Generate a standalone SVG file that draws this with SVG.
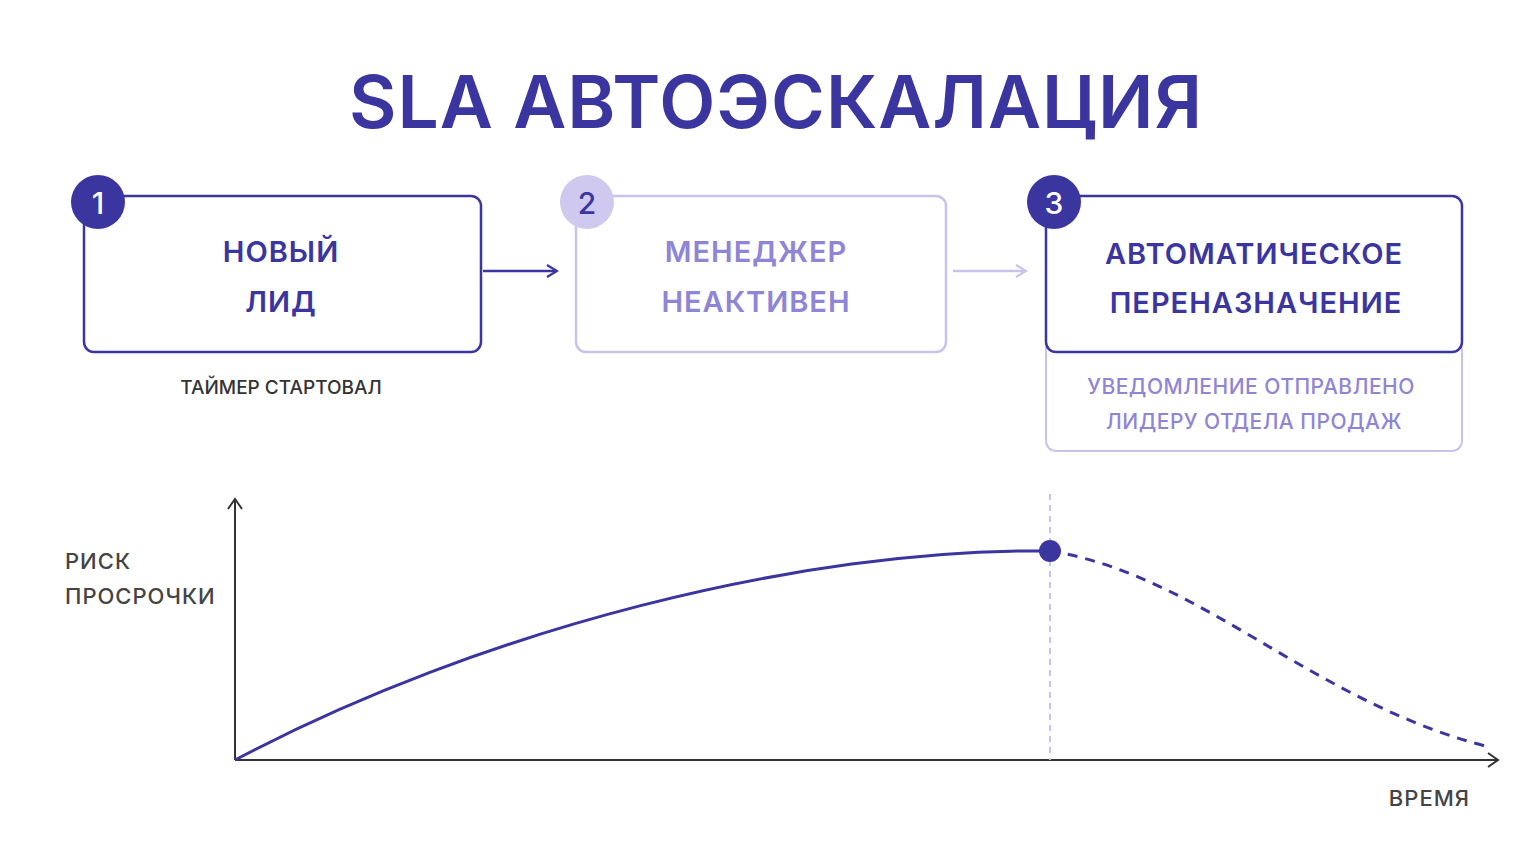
<svg xmlns="http://www.w3.org/2000/svg" width="1536" height="864" viewBox="0 0 1536 864">
<style>
text{font-family:Inter,"Noto Sans",sans-serif;text-anchor:middle}
.dk{fill:#3b35a0}.lt{fill:#8f85d6}
.bx{fill:#fff;stroke-width:2.5}
.lbl{font-size:29px;font-weight:600;letter-spacing:1px}
</style>
<defs>
<marker id="ad" markerWidth="14" markerHeight="14" refX="12" refY="7" orient="auto" markerUnits="userSpaceOnUse"><path d="M2,1 L12,7 L2,13" fill="none" stroke="#3b35a0" stroke-width="2.2"/></marker>
<marker id="al" markerWidth="14" markerHeight="14" refX="12" refY="7" orient="auto" markerUnits="userSpaceOnUse"><path d="M2,1 L12,7 L2,13" fill="none" stroke="#c9c3ec" stroke-width="2.2"/></marker>
<marker id="ag" markerWidth="16" markerHeight="16" refX="13" refY="8" orient="auto" markerUnits="userSpaceOnUse"><path d="M3,1 L13,8 L3,15" fill="none" stroke="#333" stroke-width="2"/></marker>
</defs>
<rect width="1536" height="864" fill="#fff"/>
<text x="776" y="128" font-size="73" font-weight="600" class="dk" letter-spacing="1">SLA АВТОЭСКАЛАЦИЯ</text>
<g id="connectors">
<line x1="483" y1="271" x2="557" y2="271" stroke="#3b35a0" stroke-width="2.5" marker-end="url(#ad)"/>
<line x1="953" y1="271" x2="1026" y2="271" stroke="#c9c3ec" stroke-width="2.5" marker-end="url(#al)"/>
</g>
<g id="node1">
<rect x="84" y="196" width="397" height="156" rx="10" class="bx" stroke="#3b35a0"/>
<circle cx="98" cy="202" r="27" fill="#3b35a0"/>
<text x="98" y="214" font-size="30" font-weight="500" fill="#fff">1</text>
<text x="281" y="262" class="lbl dk">НОВЫЙ</text>
<text x="281" y="312" class="lbl dk">ЛИД</text>
<text x="281" y="394" font-size="19" font-weight="500" fill="#333">ТАЙМЕР СТАРТОВАЛ</text>
</g>
<g id="node2">
<rect x="576" y="196" width="370" height="156" rx="10" class="bx" stroke="#c9c3ec"/>
<circle cx="587" cy="202" r="27" fill="#cfc9f0"/>
<text x="587" y="214" font-size="30" font-weight="500" class="dk">2</text>
<text x="756" y="262" class="lbl lt">МЕНЕДЖЕР</text>
<text x="756" y="312" class="lbl lt">НЕАКТИВЕН</text>
</g>
<g id="node3">
<rect x="1046" y="340" width="416" height="111" rx="10" fill="#fff" stroke="#c9c3ec" stroke-width="2"/>
<rect x="1046" y="196" width="416" height="156" rx="10" class="bx" stroke="#3b35a0"/>
<circle cx="1054" cy="202" r="27" fill="#3b35a0"/>
<text x="1054" y="214" font-size="30" font-weight="500" fill="#fff">3</text>
<text x="1254" y="264" class="lbl dk">АВТОМАТИЧЕСКОЕ</text>
<text x="1256" y="313" class="lbl dk">ПЕРЕНАЗНАЧЕНИЕ</text>
<text x="1251" y="394" font-size="21" font-weight="500" class="lt" letter-spacing="0.5">УВЕДОМЛЕНИЕ ОТПРАВЛЕНО</text>
<text x="1254" y="429" font-size="21" font-weight="500" class="lt" letter-spacing="0.5">ЛИДЕРУ ОТДЕЛА ПРОДАЖ</text>
</g>
<g id="chart">
<line x1="235" y1="760" x2="235" y2="499" stroke="#333" stroke-width="2" marker-end="url(#ag)"/>
<line x1="235" y1="760" x2="1498" y2="760" stroke="#333" stroke-width="2" marker-end="url(#ag)"/>
<line x1="1050" y1="494" x2="1050" y2="760" stroke="#c9c3ec" stroke-width="2" stroke-dasharray="6,5"/>
<path d="M235,760 C480,630 800,548 1050,551" fill="none" stroke="#3b35a0" stroke-width="3"/>
<path d="M1050,551 C1200,575 1310,700 1485,746" fill="none" stroke="#3b35a0" stroke-width="3" stroke-dasharray="10,8"/>
<circle cx="1050" cy="551" r="11" fill="#3b35a0"/>
<text x="65" y="569" font-size="22" font-weight="500" fill="#444" style="text-anchor:start" letter-spacing="1">РИСК</text>
<text x="65" y="604" font-size="22" font-weight="500" fill="#444" style="text-anchor:start" letter-spacing="1">ПРОСРОЧКИ</text>
<text x="1470" y="806" font-size="22" font-weight="500" fill="#444" style="text-anchor:end" letter-spacing="1">ВРЕМЯ</text>
</g>
</svg>
